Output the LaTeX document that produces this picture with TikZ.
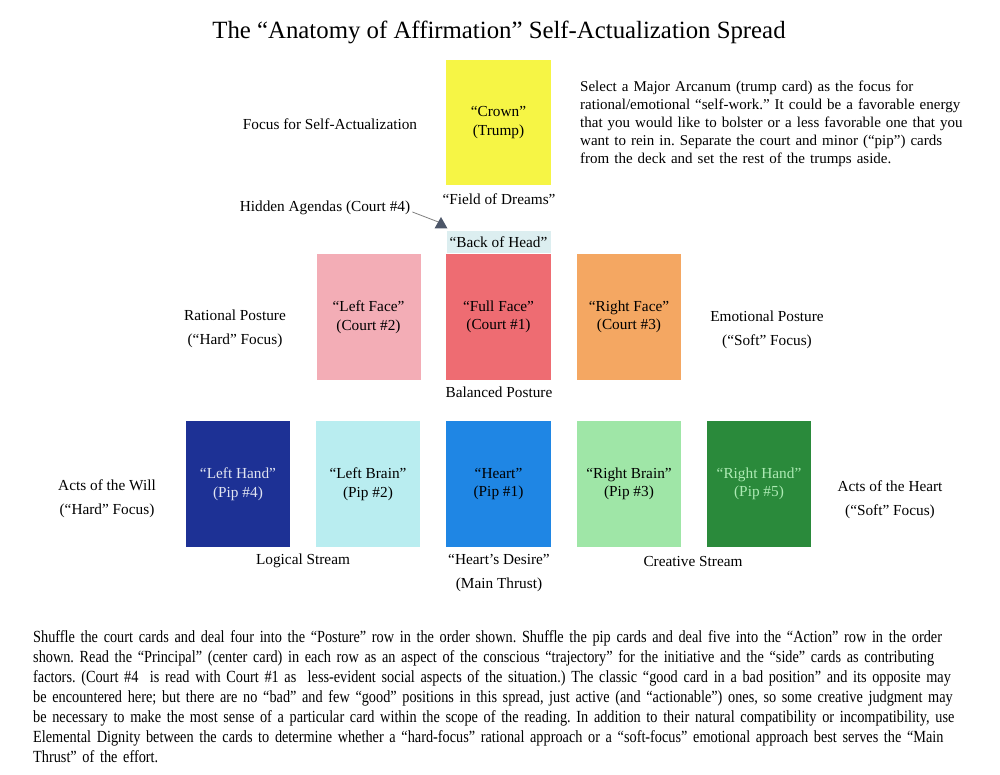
\documentclass[tikz,border=0pt]{standalone}
\usepackage{fontspec}
\setmainfont{Liberation Serif}
\newfontfamily\narrowfont{Liberation Serif}[FakeStretch=0.84]
\usetikzlibrary{arrows.meta,calc}
\definecolor{crownY}{HTML}{F6F545}
\definecolor{lfaceC}{HTML}{F3ADB6}
\definecolor{ffaceC}{HTML}{EE6C72}
\definecolor{rfaceC}{HTML}{F4A762}
\definecolor{lhandC}{HTML}{1D3195}
\definecolor{lbrainC}{HTML}{B9EDF0}
\definecolor{heartC}{HTML}{1F86E4}
\definecolor{rbrainC}{HTML}{9FE6A7}
\definecolor{rhandC}{HTML}{2A8A3B}
\definecolor{backC}{HTML}{DCEEF0}
\definecolor{arrowC}{HTML}{4C5668}
\tikzset{
  card/.style={minimum width=104pt, minimum height=126pt, inner sep=0pt, align=center,
    font=\fontsize{15.3}{18.5}\selectfont},
  lbl/.style={inner sep=0pt, align=center, font=\fontsize{15.3}{24}\selectfont},
}
\begin{document}
\frenchspacing
\begin{tikzpicture}[x=1pt,y=-1pt]
\useasboundingbox (0,0) rectangle (1000,775);
% title
\node[inner sep=0pt, font=\fontsize{24.8}{28}\selectfont] (title) at (499,32) {The “Anatomy of Affirmation” Self-Actualization Spread};
% crown
\node[card, fill=crownY, minimum width=105pt, minimum height=125pt] (crown) at (498.5,122.5) {“Crown”\\(Trump)};
\node[lbl] (focus) at (330,124) {Focus for Self-Actualization};
\node[lbl] (field) at (499,199) {“Field of Dreams”};
\node[inner sep=0pt, anchor=north west, align=left, text width=410pt,
  font=\fontsize{15}{18}\selectfont] (intro) at (580,81)
  {Select a Major Arcanum (trump card) as the focus for\\
   rational/emotional “self-work.” It could be a favorable energy\\
   that you would like to bolster or a less favorable one that you\\
   want to rein in. Separate the court and minor (“pip”) cards\\
   from the deck and set the rest of the trumps aside.};
% hidden agendas
\node[lbl] (hidden) at (325,208) {Hidden Agendas (Court \#4)};
\node[fill=backC, minimum width=104pt, minimum height=22pt, inner sep=0pt,
  font=\fontsize{15.3}{18}\selectfont] (back) at (498.5,242) {“Back of Head”};
\coordinate (tip) at (441,223);
\draw[gray, line width=0.8pt] ($(hidden.east)+(2,4)$) -- (tip);
\fill[arrowC] ($(tip)+(-6.5,5.5)$) -- ($(tip)+(0,-6)$) -- ($(tip)+(6.5,5.5)$) -- cycle;
% court row
\node[card, fill=lfaceC] (leftface) at (368.5,317) {“Left Face”\\(Court \#2)};
\node[card, fill=ffaceC, minimum width=105pt] (fullface) at (498.5,317) {“Full Face”\\(Court \#1)};
\node[card, fill=rfaceC] (rightface) at (629,317) {“Right Face”\\(Court \#3)};
\node[lbl] (rational) at (235,329) {Rational Posture\\(“Hard” Focus)};
\node[lbl] (emotional) at (767,330) {Emotional Posture\\(“Soft” Focus)};
\node[lbl] (balanced) at (499,392) {Balanced Posture};
% pip row
\node[card, fill=lhandC, text=white!78!lhandC!60!white] (lefthand) at (238,484) {“Left Hand”\\(Pip \#4)};
\node[card, fill=lbrainC] (leftbrain) at (368,484) {“Left Brain”\\(Pip \#2)};
\node[card, fill=heartC, minimum width=105pt] (heart) at (498.5,484) {“Heart”\\(Pip \#1)};
\node[card, fill=rbrainC] (rightbrain) at (629,484) {“Right Brain”\\(Pip \#3)};
\node[card, fill=rhandC, text=rbrainC!85!white] (righthand) at (759,484) {“Right Hand”\\(Pip \#5)};
\node[lbl] (will) at (107,499) {Acts of the Will\\(“Hard” Focus)};
\node[lbl] (heartacts) at (890,500) {Acts of the Heart\\(“Soft” Focus)};
\node[lbl] (logical) at (303,561) {Logical Stream};
\node[lbl] (desire) at (499,573) {“Heart's Desire”\\(Main Thrust)};
\node[lbl] (creative) at (693,562) {Creative Stream};
% bottom paragraph
\node[inner sep=0pt, anchor=north west, align=left, text width=960pt,
  font=\narrowfont\fontsize{17}{20}\selectfont] (outro) at (33,630)
  {Shuffle the court cards and deal four into the “Posture” row in the order shown. Shuffle the pip cards and deal five into the “Action” row in the order\\
   shown. Read the “Principal” (center card) in each row as an aspect of the conscious “trajectory” for the initiative and the “side” cards as contributing\\
   factors. (Court \#4\ \ is read with Court \#1 as\ \ less-evident social aspects of the situation.) The classic “good card in a bad position” and its opposite may\\
   be encountered here; but there are no “bad” and few “good” positions in this spread, just active (and “actionable”) ones, so some creative judgment may\\
   be necessary to make the most sense of a particular card within the scope of the reading. In addition to their natural compatibility or incompatibility, use\\
   Elemental Dignity between the cards to determine whether a “hard-focus” rational approach or a “soft-focus” emotional approach best serves the “Main\\
   Thrust” of the effort.};
\end{tikzpicture}
\end{document}
